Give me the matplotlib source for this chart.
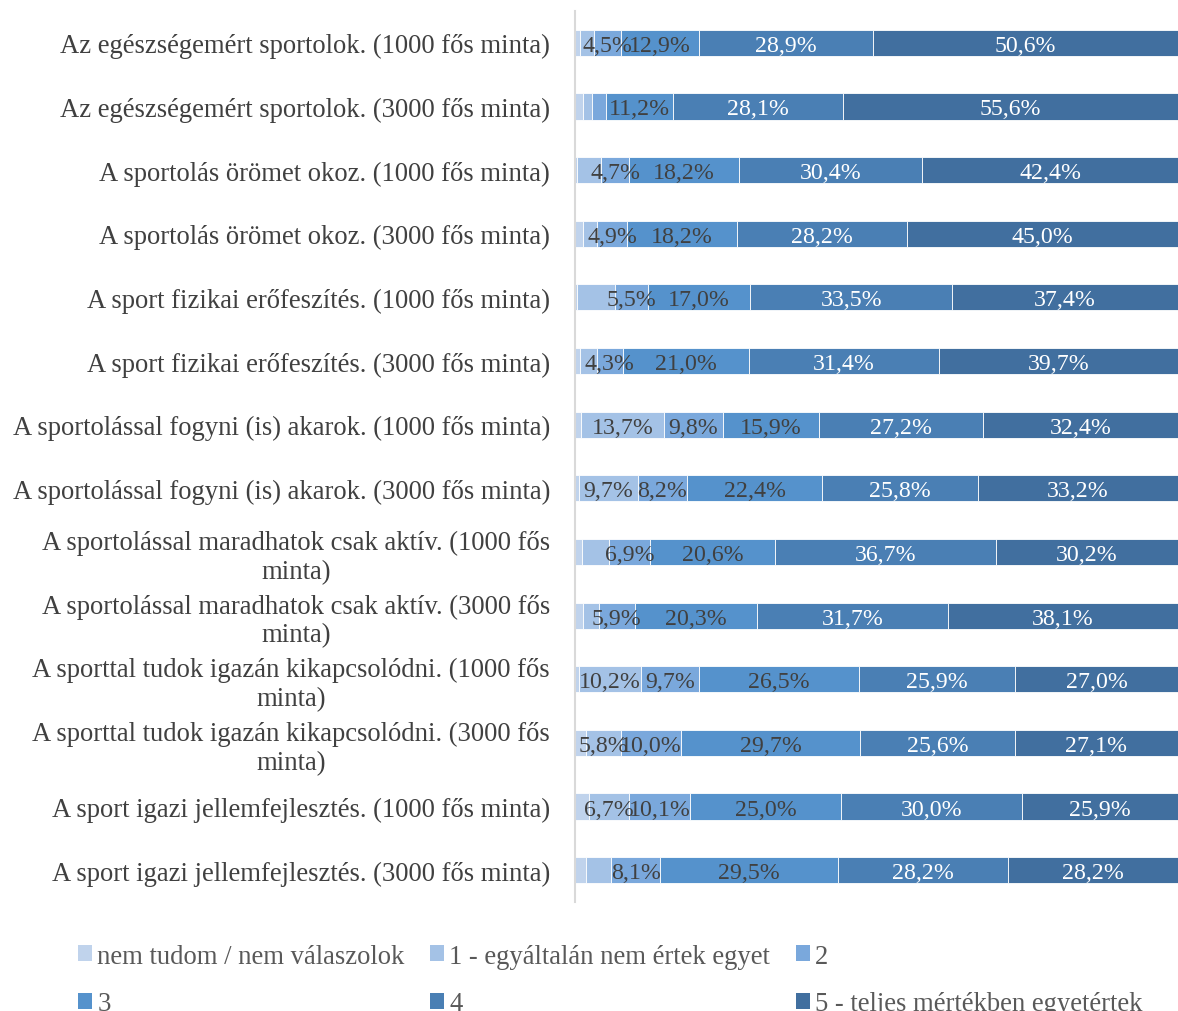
import numpy as np
import matplotlib
matplotlib.use("Agg")
import matplotlib.pyplot as plt
from matplotlib.patches import Patch

plt.rcParams['font.family'] = ['Liberation Serif', 'DejaVu Serif']

categories = [
    "Az egészségemért sportolok. (1000 fős minta)",
    "Az egészségemért sportolok. (3000 fős minta)",
    "A sportolás örömet okoz. (1000 fős minta)",
    "A sportolás örömet okoz. (3000 fős minta)",
    "A sport fizikai erőfeszítés. (1000 fős minta)",
    "A sport fizikai erőfeszítés. (3000 fős minta)",
    "A sportolással fogyni (is) akarok. (1000 fős minta)",
    "A sportolással fogyni (is) akarok. (3000 fős minta)",
    "A sportolással maradhatok csak aktív. (1000 fős\nminta)",
    "A sportolással maradhatok csak aktív. (3000 fős\nminta)",
    "A sporttal tudok igazán kikapcsolódni. (1000 fős\nminta)",
    "A sporttal tudok igazán kikapcsolódni. (3000 fős\nminta)",
    "A sport igazi jellemfejlesztés. (1000 fős minta)",
    "A sport igazi jellemfejlesztés. (3000 fős minta)",
]

series_names = [
    "nem tudom / nem válaszolok",
    "1 - egyáltalán nem értek egyet",
    "2",
    "3",
    "4",
    "5 - teljes mértékben egyetértek",
]

nem_tudom = [0.8, 1.3, 0.4, 1.3, 0.4, 0.8, 1.0, 0.7, 1.2, 1.3, 0.7, 1.8, 2.3, 1.8]
ertek_1 = [2.3, 1.6, 3.9, 2.4, 6.2, 2.8, 13.7, 9.7, 4.4, 2.7, 10.2, 5.8, 6.7, 4.2]
ertek_2 = [4.5, 2.2, 4.7, 4.9, 5.5, 4.3, 9.8, 8.2, 6.9, 5.9, 9.7, 10.0, 10.1, 8.1]
ertek_3 = [12.9, 11.2, 18.2, 18.2, 17.0, 21.0, 15.9, 22.4, 20.6, 20.3, 26.5, 29.7, 25.0, 29.5]
ertek_4 = [28.9, 28.1, 30.4, 28.2, 33.5, 31.4, 27.2, 25.8, 36.7, 31.7, 25.9, 25.6, 30.0, 28.2]
ertek_5 = [50.6, 55.6, 42.4, 45.0, 37.4, 39.7, 32.4, 33.2, 30.2, 38.1, 27.0, 27.1, 25.9, 28.2]

# which data labels are shown in the original
show_1 = [False, False, False, False, False, False, True, True, False, False, True, True, True, False]
show_2 = [True, False, True, True, True, True, True, True, True, True, True, True, True, True]

colors = ["#c0d3ec", "#a4c2e6", "#7aa8dc", "#5592cc", "#4a7fb4", "#416f9f"]
series = [nem_tudom, ertek_1, ertek_2, ertek_3, ertek_4, ertek_5]
shown = [[False] * 14, show_1, show_2, [True] * 14, [True] * 14, [True] * 14]
label_colors = ["#404040", "#404040", "#404040", "#404040", "white", "white"]

fig = plt.figure(figsize=(11.78, 10.12), dpi=100)
ax = fig.add_axes([575 / 1178, 1 - 903 / 1012, 603 / 1178, 891 / 1012])

y = np.arange(len(categories))
left = np.zeros(len(categories))
for vals, col, shw, lc in zip(series, colors, shown, label_colors):
    vals = np.array(vals)
    ax.barh(y, vals, left=left, height=0.41, color=col, edgecolor="white", linewidth=0.6)
    for i in range(len(vals)):
        if shw[i]:
            txt = ("%.1f%%" % vals[i]).replace(".", ",")
            ax.text(left[i] + vals[i] / 2, y[i], txt, ha="center", va="center_baseline",
                    fontsize=17.2, color=lc)
    left += vals

ax.set_xlim(0, 100)
ax.set_ylim(len(categories) - 0.5, -0.5)
ax.set_yticks(y)
ax.set_yticklabels(categories, fontsize=19.2, color="#404040")
for t in ax.get_yticklabels():
    t.set_multialignment("center")
ax.tick_params(axis="y", length=0, pad=18)
ax.set_xticks([])
for s in ["top", "right", "bottom"]:
    ax.spines[s].set_visible(False)
ax.spines["left"].set_color("#d9d9d9")
ax.spines["left"].set_linewidth(1.5)

handles = [Patch(facecolor=c, edgecolor="none") for c in colors]
order = [0, 3, 1, 4, 2, 5]
fig.legend([handles[i] for i in order], [series_names[i] for i in order],
           loc="upper left", bbox_to_anchor=(67 / 1178, 1 - 934 / 1012), ncol=3,
           frameon=False, fontsize=19.2, handlelength=0.53, handleheight=0.53,
           handletextpad=0.2, columnspacing=0.95, labelspacing=0.85,
           borderaxespad=0, labelcolor="#595959")

fig.savefig("out.png", dpi=100)
